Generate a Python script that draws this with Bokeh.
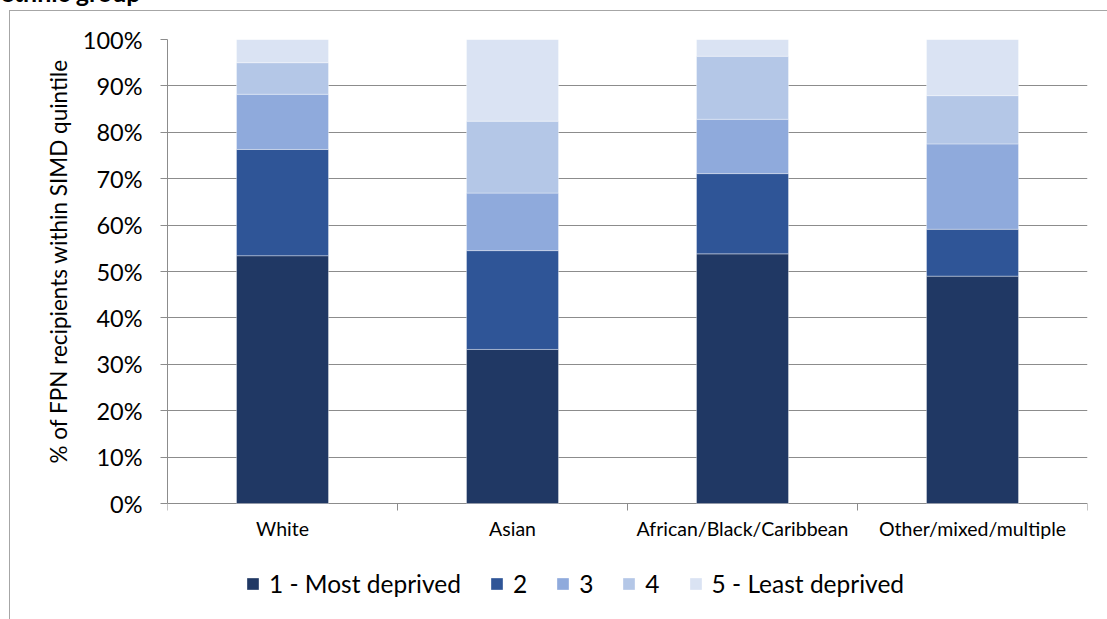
from bokeh.plotting import figure
from bokeh.models import (Range1d, FixedTicker, NumeralTickFormatter, Legend, LegendItem,
                          ColumnDataSource, InlineStyleSheet, Title)
from bokeh.core.properties import value
from bokeh.embed import file_html
from bokeh.resources import INLINE

# ---- data ----
categories = ["White", "Asian", "African/Black/Caribbean", "Other/mixed/multiple"]
quintiles = ["1 - Most deprived", "2", "3", "4", "5 - Least deprived"]
q1 = [53.4, 33.2, 53.8, 49.0]
q2 = [22.9, 21.3, 17.3, 10.1]
q3 = [11.9, 12.4, 11.7, 18.4]
q4 = [6.8, 15.5, 13.6, 10.4]
q5 = [5.0, 17.6, 3.6, 12.1]
y_ticks = [i / 10 for i in range(11)]
title_text = "ethnic group"
y_label = "% of FPN recipients within SIMD quintile"

colors = ["#203864", "#2F5597", "#8FAADC", "#B4C7E7", "#DAE3F3"]
FONT = "Lato"
AXIS_GREY = "#8c8c8c"

SHIFT = 80                      # canvas extends above the page top (title is cut off)
W, H = 1107, 619 + SHIFT
LEFT, RIGHT, TOP = 167, 20, 39 + SHIFT
PLOT_PX = 464                   # pixels from 0% to 100%
n = len(categories)
y_min = -(H - TOP - PLOT_PX) / PLOT_PX   # frame extends down to hold labels + legend

keys = ["q1", "q2", "q3", "q4", "q5"]
src = ColumnDataSource(dict(
    x=[i + 0.5 for i in range(n)],
    q1=[v / 100 for v in q1], q2=[v / 100 for v in q2], q3=[v / 100 for v in q3],
    q4=[v / 100 for v in q4], q5=[v / 100 for v in q5],
))

p = figure(width=W, height=H, output_backend="svg", toolbar_location=None,
           x_range=Range1d(0, n), y_range=Range1d(y_min, 1),
           x_axis_location=None,
           min_border_left=LEFT, min_border_right=RIGHT,
           min_border_top=TOP, min_border_bottom=0)
p.styles = {"margin-top": f"-{SHIFT}px"}
p.stylesheets = [InlineStyleSheet(css=(
    ":host::after{content:'';position:absolute;left:9px;top:%dpx;right:0;bottom:0;"
    "border-left:1px solid #a6a6a6;border-top:1px solid #a6a6a6;pointer-events:none;}"
    % (10 + SHIFT)))]
p.outline_line_color = None
p.background_fill_color = "white"
p.border_fill_color = "white"

# cut-off chart title (only its lower part shows at the top edge)
p.title.text = title_text
p.title.align = "left"
p.title.offset = -LEFT
p.title.standoff = 66
p.title.vertical_align = "bottom"
p.title.text_font = FONT
p.title.text_font_size = "25px"
p.title.text_font_style = "bold"
p.title.text_color = "#000000"

renderers = p.vbar_stack(keys, x="x", width=0.4, color=colors, source=src,
                         line_color="white", line_alpha=0.35, line_width=1)

# grid
p.xgrid.grid_line_color = None
p.ygrid.ticker = FixedTicker(ticks=y_ticks)
p.ygrid.grid_line_color = AXIS_GREY
p.ygrid.grid_line_width = 1

# y axis
ya = p.yaxis[0]
ya.bounds = (0, 1)
ya.ticker = FixedTicker(ticks=y_ticks)
ya.formatter = NumeralTickFormatter(format="0%")
ya.axis_line_color = AXIS_GREY
ya.major_tick_line_color = AXIS_GREY
ya.major_tick_out = 7
ya.major_tick_in = 0
ya.minor_tick_line_color = None
ya.major_label_standoff = 18
ya.major_label_text_font = FONT
ya.major_label_text_font_size = "23.5px"
ya.major_label_text_color = "#000000"

# y-axis title (placed along the 0-100% span, not the whole frame)
ytitle = Title(text=y_label, align="left", offset=156, standoff=16,
               vertical_align="bottom", text_font=FONT, text_font_size="22.5px",
               text_font_style="normal", text_color="#000000")
p.add_layout(ytitle, "left")

# category axis: tick marks at category boundaries, labels at centres
bounds_x = [i for i in range(n + 1)]
p.segment(x0=bounds_x, y0=[0] * len(bounds_x), x1=bounds_x,
          y1=[-7 / PLOT_PX] * len(bounds_x), line_color=AXIS_GREY, line_width=1)
p.text(x=[i + 0.5 for i in range(n)], y=[-25 / PLOT_PX] * n, text=categories,
       text_align="center", text_baseline="alphabetic",
       text_font=value(FONT), text_font_size="19.5px", text_color="#000000")

# legend
items = [LegendItem(label=q, renderers=[r]) for q, r in zip(quintiles, renderers)]
legend = Legend(items=items, orientation="horizontal", location=(78, 21),
                glyph_width=15, glyph_height=15, label_standoff=9, spacing=28,
                label_width=14,
                padding=0, margin=0, border_line_color=None,
                background_fill_alpha=0,
                label_text_font=FONT, label_text_font_size="24.5px",
                label_text_color="#000000")
p.add_layout(legend, "center")

open("out.html", "w").write(file_html(p, INLINE))
